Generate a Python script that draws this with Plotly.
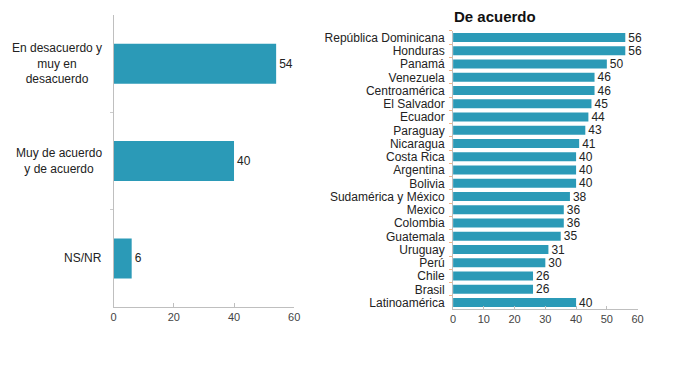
import plotly.graph_objects as go

# left panel: overall answer
resp_labels = ["En desacuerdo y<br>muy en<br>desacuerdo", "Muy de acuerdo<br>y de acuerdo", "NS/NR"]
resp_values = [54, 40, 6]

# right panel: "De acuerdo" by country
countries = ["República Dominicana", "Honduras", "Panamá", "Venezuela", "Centroamérica",
             "El Salvador", "Ecuador", "Paraguay", "Nicaragua", "Costa Rica", "Argentina",
             "Bolivia", "Sudamérica y México", "Mexico", "Colombia", "Guatemala", "Uruguay",
             "Perú", "Chile", "Brasil", "Latinoamérica"]
agree = [56, 56, 50, 46, 46, 45, 44, 43, 41, 40, 40, 40, 38, 36, 36, 35, 31, 30, 26, 26, 40]

BAR = "#2B9AB7"
FONT = "Liberation Sans, Arial, sans-serif"
# page body has an 8px margin, keep the figure inside the 696x383 window
OFF = 8
W, H = 696 - 2 * OFF, 383 - 2 * OFF


def px(x):
    return (x - OFF) / W


def py(y):
    return 1 - (y - OFF) / H


fig = go.Figure()

fig.add_trace(go.Bar(
    x=resp_values, y=list(range(len(resp_values))), orientation="h",
    marker=dict(color=BAR, line=dict(width=0)), width=0.41,
    text=resp_values, textposition="outside", cliponaxis=False,
    constraintext="none",
    textfont=dict(size=12, color="#222"),
    xaxis="x", yaxis="y", showlegend=False,
))

fig.add_trace(go.Bar(
    x=agree, y=countries, orientation="h",
    marker=dict(color=BAR, line=dict(width=0)), width=0.68,
    text=agree, textposition="outside", cliponaxis=False,
    constraintext="none",
    textfont=dict(size=12, color="#222"),
    xaxis="x2", yaxis="y2", showlegend=False,
))

# centred multi-line category labels for the left panel
for i, lab in enumerate(resp_labels):
    fig.add_annotation(
        x=px(102), xref="paper", xanchor="right",
        y=i, yref="y", yanchor="middle",
        text=lab, showarrow=False, align="center",
        font=dict(family=FONT, size=12, color="#222"),
    )

fig.add_annotation(
    x=px(498), xref="paper", xanchor="center",
    y=py(17), yref="paper", yanchor="middle", borderpad=0,
    text="<b>De acuerdo</b>", showarrow=False,
    font=dict(family=FONT, size=15, color="#111"),
)

axis_common = dict(showgrid=False, zeroline=False, showline=True,
                   linecolor="#BFBFBF", linewidth=1)

fig.update_layout(
    width=W, height=H,
    margin=dict(l=0, r=0, t=0, b=0),
    paper_bgcolor="white", plot_bgcolor="white",
    font=dict(family=FONT, size=12, color="#333"),
    xaxis=dict(domain=[px(112), px(295)], range=[0, 60], dtick=20,
               ticks="inside", ticklen=4, tickcolor="#BFBFBF",
               tickfont=dict(size=11, color="#444"), anchor="y", **axis_common),
    yaxis=dict(domain=[py(308), py(15)], range=[2.5, -0.5],
               showticklabels=False, tickvals=[0.5, 1.5], ticks="outside",
               ticklen=3, tickcolor="#CCCCCC", anchor="x", **axis_common),
    xaxis2=dict(domain=[px(456), px(643)], range=[0, 60], dtick=10,
                ticks="inside", ticklen=3, tickcolor="#BFBFBF",
                tickfont=dict(size=11, color="#444"), anchor="y2", **axis_common),
    yaxis2=dict(domain=[py(310), py(31)], autorange="reversed",
                type="category", tickmode="array", tickvals=countries,
                tickson="boundaries", ticks="outside",
                ticklen=3, tickcolor="#F2B48A", ticklabelstandoff=5,
                tickfont=dict(size=12, color="#222"), anchor="x2", **axis_common),
)

fig.write_html("out.html")
